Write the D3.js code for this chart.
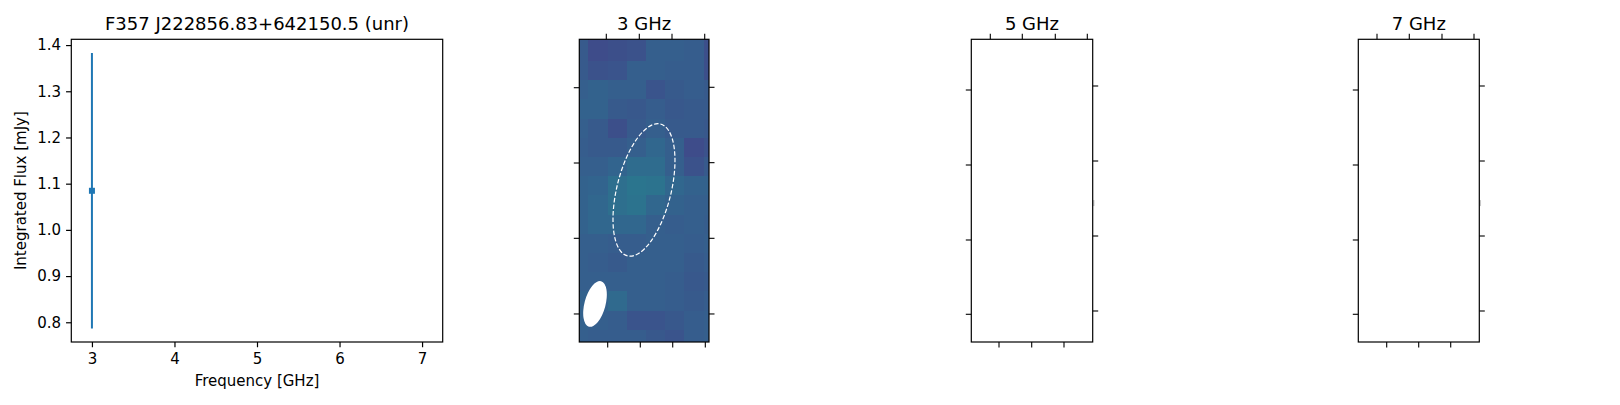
<!DOCTYPE html>
<html>
<head>
<meta charset="utf-8">
<script src="https://cdn.jsdelivr.net/npm/d3@7"></script>
<style>
  html, body { margin: 0; padding: 0; background: #fff; }
  svg { display: block; font-family: "DejaVu Sans", sans-serif; }
</style>
</head>
<body>
<svg id="chart" width="1620" height="405"></svg>
<script>
// ---------------- data ----------------
const sourceTitle = "F357 J222856.83+642150.5 (unr)";
const frequencies = [3];
const fluxValues = [1.0846];
const fluxErrors = [0.298];
const xTicks = [3, 4, 5, 6, 7];
const yTicks = [0.8, 0.9, 1.0, 1.1, 1.2, 1.3, 1.4];
const xLabel = "Frequency [GHz]";
const yLabel = "Integrated Flux [mJy]";

const panelTitles = ["3 GHz", "5 GHz", "7 GHz"];

// 3 GHz cutout pixel values (normalised colour scale), rows top -> bottom
const image3GHz = [
  [0.28, 0.23, 0.24, 0.25, 0.30, 0.30, 0.29, 0.24],
  [0.28, 0.23, 0.24, 0.25, 0.30, 0.30, 0.29, 0.24],
  [0.28, 0.25, 0.26, 0.30, 0.30, 0.29, 0.29, 0.24],
  [0.30, 0.31, 0.30, 0.30, 0.26, 0.28, 0.29, 0.28],
  [0.31, 0.31, 0.28, 0.27, 0.29, 0.27, 0.28, 0.28],
  [0.30, 0.28, 0.24, 0.28, 0.30, 0.28, 0.28, 0.27],
  [0.29, 0.28, 0.28, 0.30, 0.33, 0.30, 0.23, 0.25],
  [0.30, 0.30, 0.32, 0.35, 0.35, 0.30, 0.25, 0.28],
  [0.31, 0.32, 0.36, 0.39, 0.38, 0.33, 0.31, 0.31],
  [0.31, 0.33, 0.36, 0.38, 0.33, 0.31, 0.30, 0.30],
  [0.31, 0.33, 0.33, 0.33, 0.30, 0.29, 0.30, 0.29],
  [0.30, 0.30, 0.29, 0.29, 0.30, 0.30, 0.29, 0.30],
  [0.30, 0.29, 0.28, 0.30, 0.30, 0.30, 0.28, 0.29],
  [0.30, 0.30, 0.30, 0.30, 0.30, 0.29, 0.27, 0.28],
  [0.31, 0.31, 0.34, 0.30, 0.30, 0.29, 0.28, 0.29],
  [0.31, 0.30, 0.29, 0.26, 0.26, 0.27, 0.29, 0.30],
  [0.30, 0.29, 0.29, 0.29, 0.27, 0.26, 0.29, 0.30]
];

// source ellipse and beam (image pixel units: cx, cy, semi-major, semi-minor, angle deg)
const sourceEllipse = [3.40, 8.22, 3.54, 1.41, 14];
const beamEllipse = [0.849, 14.16, 1.224, 0.547, 15];

// view windows (image pixel units) and WCS tick positions per panel
const panelXDomains = [[0.031, 6.786], [0, 6.323], [0, 6.302]];
const panelYDomains = [[0.375, 16.14], [0, 15.766], [0, 15.766]];
const topTicks = [[1.4375, 3.156, 4.859, 6.5625], [0.99, 2.656, 4.375, 6.042], [0.974, 2.656, 4.359, 6.026]];
const bottomTicks = [[1.51, 3.208, 4.896, 6.594], [1.443, 3.146, 4.828], [1.479, 3.146, 4.813]];
const leftTicks = [[2.896, 6.818, 10.74, 14.68], [2.641, 6.547, 10.453, 14.323], [2.641, 6.547, 10.453, 14.323]];
const rightTicks = [[2.875, 6.80, 10.74, 14.68], [2.432, 6.339, 10.245, 14.151], [2.432, 6.339, 10.245, 14.151]];
const ghostTicks = [[], [8.53], [8.53]];

// ---------------- layout ----------------
const svg = d3.select("#chart");
const fontSize = 15;
const titleSize = 18;
const blue = "#1f77b4";

// ---------- left spectrum panel ----------
const L = { left: 71.3, right: 442.7, top: 39.3, bottom: 342 };
const x = d3.scaleLinear().domain([2.75, 7.25]).range([L.left, L.right]);
const y = d3.scaleLinear().domain([0.7573, 1.4125]).range([L.bottom, L.top]);

const g = svg.append("g");

const xAxis = g.append("g")
  .attr("transform", `translate(0,${L.bottom})`)
  .call(d3.axisBottom(x).tickValues(xTicks).tickFormat(d3.format("d")).tickSizeOuter(0).tickSize(5.25).tickPadding(6));
const yAxis = g.append("g")
  .attr("transform", `translate(${L.left},0)`)
  .call(d3.axisLeft(y).tickValues(yTicks).tickFormat(d3.format(".1f")).tickSizeOuter(0).tickSize(5.25).tickPadding(5));
[xAxis, yAxis].forEach(a => {
  a.select(".domain").remove();
  a.selectAll("line").attr("stroke", "#000").attr("stroke-width", 1.2);
  a.selectAll("text").attr("fill", "#000").style("font-size", fontSize + "px").style("font-family", "DejaVu Sans");
});

// error bars
const errG = g.append("g");
errG.selectAll("line.err").data(frequencies).join("line")
  .attr("x1", d => x(d)).attr("x2", d => x(d))
  .attr("y1", (d, i) => y(fluxValues[i] - fluxErrors[i]))
  .attr("y2", (d, i) => y(fluxValues[i] + fluxErrors[i]))
  .attr("stroke", blue).attr("stroke-width", 2);
const ms = 6;
errG.selectAll("rect.pt").data(frequencies).join("rect")
  .attr("x", d => x(d) - ms / 2)
  .attr("y", (d, i) => y(fluxValues[i]) - ms / 2)
  .attr("width", ms).attr("height", ms)
  .attr("fill", blue);

g.append("rect")
  .attr("x", L.left).attr("y", L.top)
  .attr("width", L.right - L.left).attr("height", L.bottom - L.top)
  .attr("fill", "none").attr("stroke", "#000").attr("stroke-width", 1.2);

g.append("text")
  .attr("x", (L.left + L.right) / 2).attr("y", 30)
  .attr("text-anchor", "middle").style("font-size", titleSize + "px")
  .text(sourceTitle);
g.append("text")
  .attr("x", (L.left + L.right) / 2).attr("y", 385.5)
  .attr("text-anchor", "middle").style("font-size", fontSize + "px")
  .text(xLabel);
g.append("text")
  .attr("transform", `translate(26,${(L.top + L.bottom) / 2}) rotate(-90)`)
  .attr("text-anchor", "middle").style("font-size", fontSize + "px")
  .text(yLabel);

// ---------- image panels ----------
const panelFrames = [
  { left: 579.3, right: 709.0, top: 39.3, bottom: 342 },
  { left: 971.3, right: 1092.7, top: 39.3, bottom: 342 },
  { left: 1358.3, right: 1479.3, top: 39.3, bottom: 342 }
];
const images = [image3GHz, null, null];
const color = d3.scaleSequential(d3.interpolateViridis).domain([0, 1]);
const tickLen = 5.5;

panelFrames.forEach((F, p) => {
  const pg = svg.append("g");
  const xs = d3.scaleLinear().domain(panelXDomains[p]).range([F.left, F.right]);
  const ys = d3.scaleLinear().domain(panelYDomains[p]).range([F.top, F.bottom]);
  const clipId = "clip" + p;
  pg.append("clipPath").attr("id", clipId).append("rect")
    .attr("x", F.left).attr("y", F.top).attr("width", F.right - F.left).attr("height", F.bottom - F.top);

  const img = images[p];
  if (img) {
    const cells = [];
    img.forEach((row, i) => row.forEach((v, j) => cells.push({ i, j, v })));
    const ig = pg.append("g").attr("clip-path", `url(#${clipId})`);
    ig.selectAll("rect").data(cells).join("rect")
      .attr("x", d => xs(d.j - 0.5))
      .attr("y", d => ys(d.i - 0.5))
      .attr("width", d => xs(d.j + 0.5) - xs(d.j - 0.5) + 0.3)
      .attr("height", d => ys(d.i + 0.5) - ys(d.i - 0.5) + 0.3)
      .attr("fill", d => color(d.v))
      .attr("shape-rendering", "crispEdges");
    const k = xs(1) - xs(0);
    const ell = (e, fill, dash) => {
      const el = ig.append("ellipse")
        .attr("transform", `translate(${xs(e[0])},${ys(e[1])}) rotate(${e[4]})`)
        .attr("rx", e[3] * k).attr("ry", e[2] * k);
      if (fill) el.attr("fill", "#fff").attr("stroke", "none");
      else el.attr("fill", "none").attr("stroke", "#fff").attr("stroke-width", 1.2).attr("stroke-dasharray", dash);
    };
    ell(sourceEllipse, false, "4.5,2");
    ell(beamEllipse, true);
  }

  const tk = pg.append("g").attr("stroke", "#000").attr("stroke-width", 1.1);
  tk.selectAll("line.t").data(topTicks[p]).join("line")
    .attr("x1", d => xs(d)).attr("x2", d => xs(d)).attr("y1", F.top).attr("y2", F.top - tickLen);
  tk.selectAll("line.b").data(bottomTicks[p]).join("line")
    .attr("x1", d => xs(d)).attr("x2", d => xs(d)).attr("y1", F.bottom).attr("y2", F.bottom + tickLen);
  tk.selectAll("line.l").data(leftTicks[p]).join("line")
    .attr("y1", d => ys(d)).attr("y2", d => ys(d)).attr("x1", F.left).attr("x2", F.left - tickLen);
  tk.selectAll("line.r").data(rightTicks[p]).join("line")
    .attr("y1", d => ys(d)).attr("y2", d => ys(d)).attr("x1", F.right).attr("x2", F.right + tickLen);
  pg.append("g").selectAll("line").data(ghostTicks[p]).join("line")
    .attr("x1", F.right + 1).attr("x2", F.right + 1)
    .attr("y1", d => ys(d) - 3).attr("y2", d => ys(d) + 3)
    .attr("stroke", "#c8c8c8").attr("stroke-width", 1.5);

  pg.append("rect")
    .attr("x", F.left).attr("y", F.top)
    .attr("width", F.right - F.left).attr("height", F.bottom - F.top)
    .attr("fill", "none").attr("stroke", "#000").attr("stroke-width", 1.2);

  pg.append("text")
    .attr("x", (F.left + F.right) / 2).attr("y", 30)
    .attr("text-anchor", "middle").style("font-size", titleSize + "px")
    .text(panelTitles[p]);
});
</script>
</body>
</html>
